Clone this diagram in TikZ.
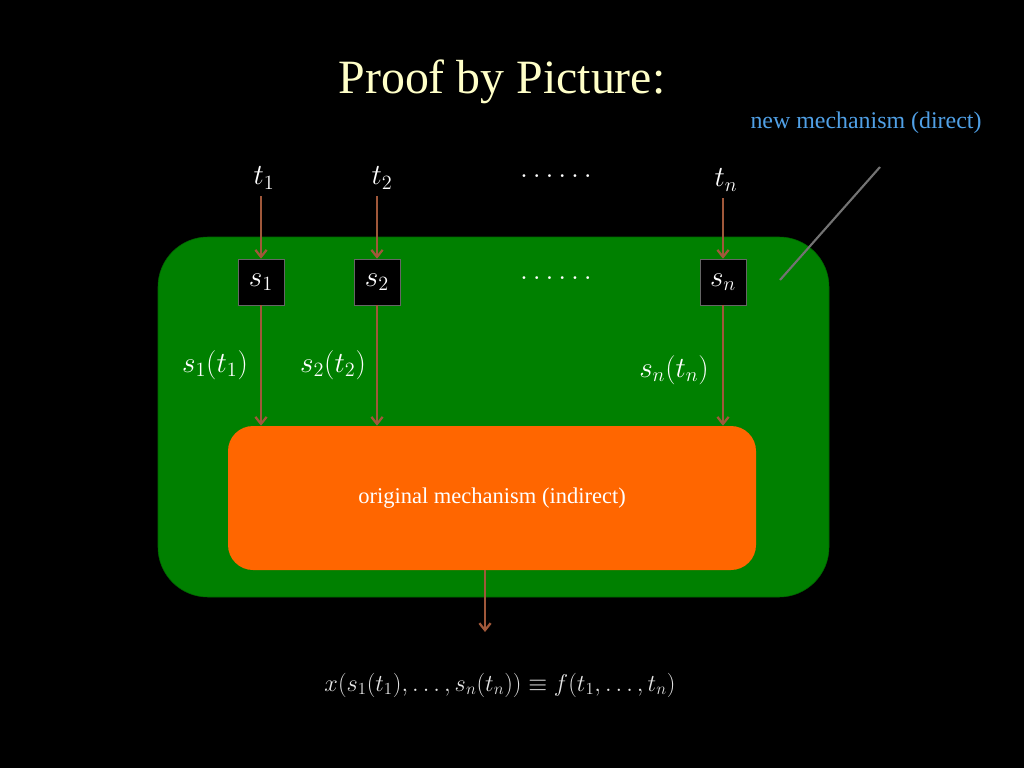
\documentclass[tikz,border=0pt]{standalone}
\usepackage{fontspec}
\setmainfont{Liberation Serif}
\usetikzlibrary{arrows.meta}
\begin{document}
\begin{tikzpicture}[x=0.025cm,y=-0.025cm,
  arr/.style={draw=brown!70!red!80!black,line width=1.6pt,-{Straight Barb[length=5pt,width=8pt]}},
  sbox/.style={fill=black,draw=black!60,minimum size=46*0.025cm,inner sep=0pt,text=white,font=\fontsize{21}{24}\selectfont},
  mlab/.style={text=white,font=\fontsize{21}{24}\selectfont}]
\definecolor{brn}{HTML}{A0583A}
\tikzset{arr/.style={draw=brn,line width=1.6pt,-{Straight Barb[length=5pt,width=8pt]}}}
\fill[black] (0,0) rectangle (1024,768);
\useasboundingbox (0,0) rectangle (1024,768);
\node[text={rgb,255:red,255;green,255;blue,200},font=\fontsize{34}{38}\selectfont] (title) at (502,82) {Proof by Picture:};
\node[text={rgb,255:red,80;green,160;blue,230},font=\fontsize{17}{20}\selectfont] (new) at (866,123) {new mechanism (direct)};
\node[fill={rgb,255:red,0;green,128;blue,0},draw=black!60!green,rounded corners=50*0.025cm,minimum width=671*0.025cm,minimum height=360*0.025cm,inner sep=0pt] (green) at (493.5,417) {};
\node[fill={rgb,255:red,255;green,102;blue,0},rounded corners=25*0.025cm,minimum width=528*0.025cm,minimum height=144*0.025cm,inner sep=0pt,text=white,font=\fontsize{16}{19}\selectfont] (orange) at (492,498) {original mechanism (indirect)};
\node[mlab] (t1) at (264,178) {$t_1$};
\node[mlab] (t2) at (382,178) {$t_2$};
\node[mlab] (d1) at (556,176) {$\ldots\ldots$};
\node[mlab] (tn) at (726,180) {$t_n$};
\node[sbox] (s1) at (261,282) {$s_1$};
\node[sbox] (s2) at (377,282) {$s_2$};
\node[mlab] (d2) at (556,278) {$\ldots\ldots$};
\node[sbox] (sn) at (723,282) {$s_n$};
\coordinate (a1) at (261,196); \coordinate (a2) at (377,196); \coordinate (an) at (723,198);
\draw[arr] (a1) -- (s1.north);
\draw[arr] (a2) -- (s2.north);
\draw[arr] (an) -- (sn.north);
\draw[arr] (s1.south) -- (s1.south |- orange.north);
\draw[arr] (s2.south) -- (s2.south |- orange.north);
\draw[arr] (sn.south) -- (sn.south |- orange.north);
\node[mlab] (l1) at (215,365) {$s_1(t_1)$};
\node[mlab] (l2) at (333,365) {$s_2(t_2)$};
\node[mlab] (ln) at (674,370) {$s_n(t_n)$};
\coordinate (out) at (485,632);
\draw[arr] (orange.south -| out) -- (out);
\node[text=black!10,font=\fontsize{17}{20}\selectfont] (f) at (500,685) {$x(s_1(t_1),\ldots,s_n(t_n))\equiv f(t_1,\ldots,t_n)$};
\coordinate (p1) at (880,167); \coordinate (p2) at (780,280);
\draw[black!55,line width=1.5pt] (p1) -- (p2);
\end{tikzpicture}
\end{document}
